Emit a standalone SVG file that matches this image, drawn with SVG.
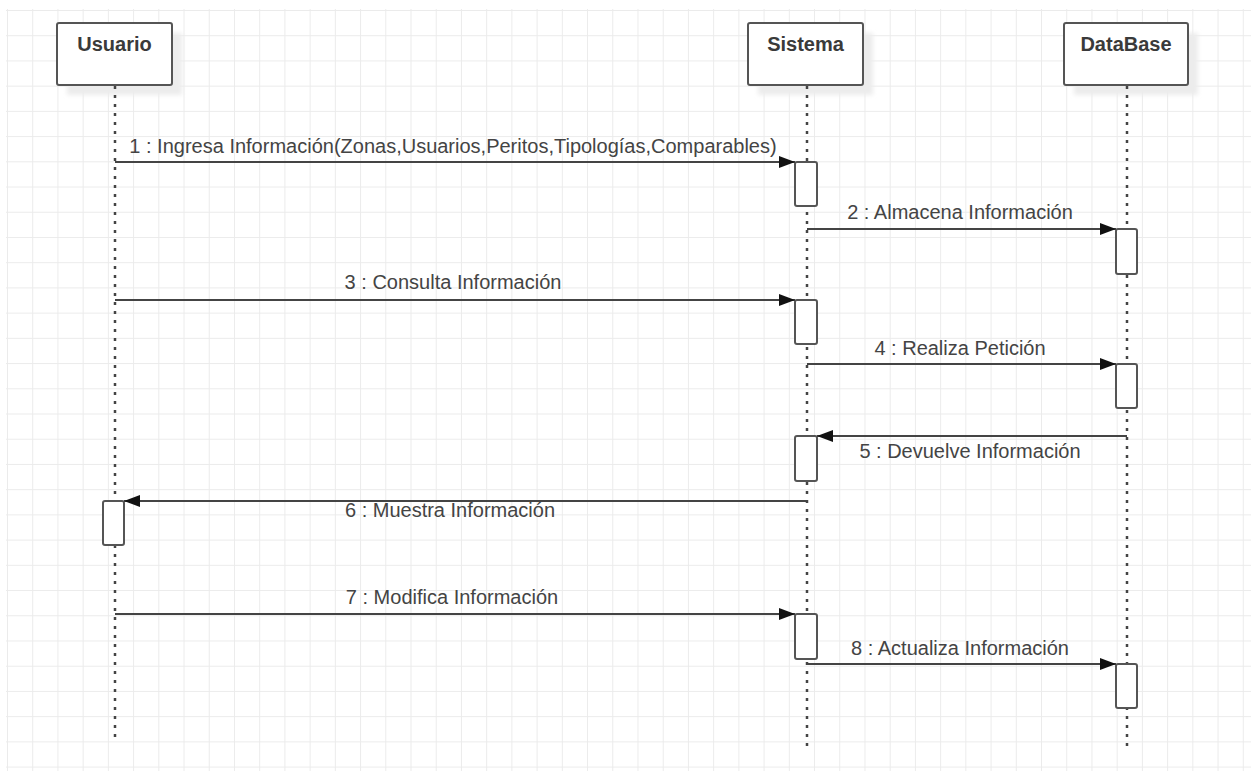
<svg xmlns="http://www.w3.org/2000/svg" width="1251" height="771" viewBox="0 0 1251 771">
  <defs>
    <pattern id="grid" x="7" y="10" width="25.22" height="25.22" patternUnits="userSpaceOnUse">
      <path d="M0 0 H25.22 M0 0 V25.22" fill="none" stroke="#ebebeb" stroke-width="2"/>
    </pattern>
    <marker id="arrow" viewBox="0 0 16 12" refX="16" refY="6" markerWidth="16" markerHeight="12" markerUnits="userSpaceOnUse" orient="auto">
      <path d="M0 0 L16 6 L0 12 Z" fill="#111"/>
    </marker>
    <filter id="soft" x="-10%" y="-10%" width="130%" height="130%">
      <feGaussianBlur stdDeviation="2"/>
    </filter>
  </defs>
  <style>
    .head { fill: #fff; stroke: #555; stroke-width: 2; }
    .shadow { fill: #ececec; filter: url(#soft); }
    .htxt { font-family: "Liberation Sans", Arial, sans-serif; font-weight: bold; font-size: 20px; fill: #3a3a3a; text-anchor: middle; }
    .life { stroke: #444; stroke-width: 2.5; stroke-dasharray: 3 6; fill: none; }
    .act { fill: #fff; stroke: #555; stroke-width: 2; }
    .msg { stroke: #444; stroke-width: 2; fill: none; marker-end: url(#arrow); }
    .lbl { font-family: "Liberation Sans", Arial, sans-serif; font-size: 20px; fill: #444; text-anchor: middle; }
  </style>

  <rect width="1251" height="771" fill="#fff"/>
  <!-- background grid -->
  <rect x="6" y="9" width="1245" height="762" fill="url(#grid)"/>

  <!-- lifeline heads -->
  <g id="usuario">
    <rect class="shadow" x="67" y="33" width="115" height="62"/>
    <rect class="head" x="57" y="23" width="115" height="62" rx="2"/>
    <text class="htxt" x="114.5" y="51">Usuario</text>
    <line class="life" x1="115" y1="86" x2="115" y2="740"/>
    <rect class="act" x="103" y="501" width="21" height="44" rx="2"/>
  </g>
  <g id="sistema">
    <rect class="shadow" x="758" y="33" width="115" height="62"/>
    <rect class="head" x="748" y="23" width="115" height="62" rx="2"/>
    <text class="htxt" x="805.5" y="51">Sistema</text>
    <line class="life" x1="807" y1="86" x2="807" y2="751"/>
    <rect class="act" x="795" y="162" width="22" height="44" rx="2"/>
    <rect class="act" x="795" y="300" width="22" height="44" rx="2"/>
    <rect class="act" x="795" y="436" width="22" height="45" rx="2"/>
    <rect class="act" x="795" y="614" width="22" height="45" rx="2"/>
  </g>
  <g id="database">
    <rect class="shadow" x="1074" y="33" width="124" height="62"/>
    <rect class="head" x="1064" y="23" width="124" height="62" rx="2"/>
    <text class="htxt" x="1126" y="51">DataBase</text>
    <line class="life" x1="1127" y1="86" x2="1127" y2="752"/>
    <rect class="act" x="1116" y="229" width="21" height="45" rx="2"/>
    <rect class="act" x="1116" y="364" width="21" height="44" rx="2"/>
    <rect class="act" x="1116" y="664" width="21" height="44" rx="2"/>
  </g>

  <!-- messages -->
  <g id="connectors">
    <line class="msg" x1="115" y1="162" x2="795" y2="162"/>
    <text class="lbl" x="453" y="153">1 : Ingresa Información(Zonas,Usuarios,Peritos,Tipologías,Comparables)</text>

    <line class="msg" x1="807" y1="229" x2="1116" y2="229"/>
    <text class="lbl" x="960" y="219">2 : Almacena Información</text>

    <line class="msg" x1="115" y1="300" x2="795" y2="300"/>
    <text class="lbl" x="453" y="289">3 : Consulta Información</text>

    <line class="msg" x1="807" y1="364" x2="1116" y2="364"/>
    <text class="lbl" x="960" y="355">4 : Realiza Petición</text>

    <line class="msg" x1="1127" y1="436" x2="817" y2="436"/>
    <text class="lbl" x="970" y="458">5 : Devuelve Información</text>

    <line class="msg" x1="807" y1="501" x2="124" y2="501"/>
    <text class="lbl" x="450" y="517">6 : Muestra Información</text>

    <line class="msg" x1="115" y1="614" x2="795" y2="614"/>
    <text class="lbl" x="452" y="604">7 : Modifica Información</text>

    <line class="msg" x1="807" y1="664" x2="1116" y2="664"/>
    <text class="lbl" x="960" y="655">8 : Actualiza Información</text>
  </g>
</svg>
